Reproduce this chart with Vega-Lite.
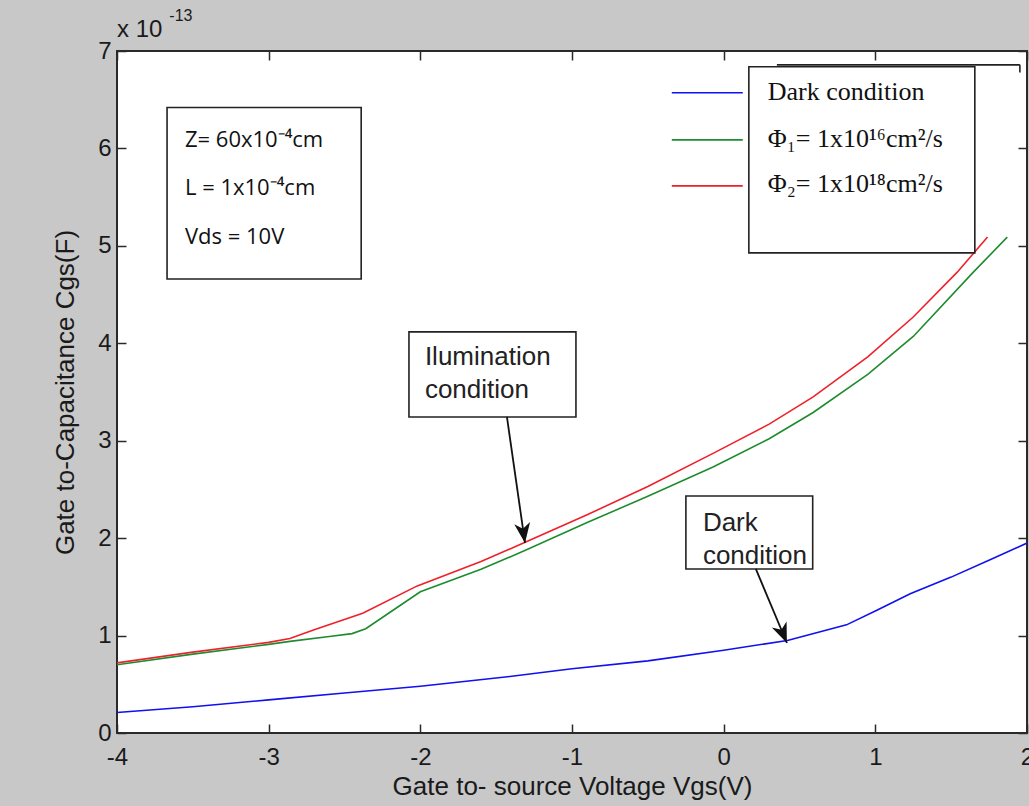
{
  "$schema": "https://vega.github.io/schema/vega-lite/v6.json",
  "width": 910,
  "height": 682,
  "autosize": {"type": "none"},
  "padding": {"left": 117, "top": 51, "right": 2, "bottom": 73},
  "background": "#c8c8c8",
  "view": {"fill": "white", "stroke": "#2a2a2a", "strokeWidth": 2},
  "config": {
    "axis": {
      "grid": false, "domain": false, "tickColor": "#2a2a2a", "tickWidth": 1.5,
      "tickSize": -9, "labelFont": "Liberation Sans", "labelFontSize": 24,
      "labelColor": "#1a1a1a", "titleFont": "Liberation Sans", "titleFontSize": 26,
      "titleFontWeight": "normal", "titleColor": "#1a1a1a",
      "labelOverlap": false, "labelFlush": false, "labelBound": false
    }
  },
  "datasets": {
    "curves": [
      {"Vgs": -4.0, "Cgs": 0.72, "series": "Phi2"},
      {"Vgs": -3.5, "Cgs": 0.83, "series": "Phi2"},
      {"Vgs": -3.0, "Cgs": 0.93, "series": "Phi2"},
      {"Vgs": -2.86, "Cgs": 0.97, "series": "Phi2"},
      {"Vgs": -2.7, "Cgs": 1.06, "series": "Phi2"},
      {"Vgs": -2.38, "Cgs": 1.23, "series": "Phi2"},
      {"Vgs": -2.02, "Cgs": 1.51, "series": "Phi2"},
      {"Vgs": -1.6, "Cgs": 1.76, "series": "Phi2"},
      {"Vgs": -1.32, "Cgs": 1.95, "series": "Phi2"},
      {"Vgs": -0.9, "Cgs": 2.24, "series": "Phi2"},
      {"Vgs": -0.5, "Cgs": 2.53, "series": "Phi2"},
      {"Vgs": -0.07, "Cgs": 2.87, "series": "Phi2"},
      {"Vgs": 0.3, "Cgs": 3.17, "series": "Phi2"},
      {"Vgs": 0.59, "Cgs": 3.45, "series": "Phi2"},
      {"Vgs": 0.95, "Cgs": 3.86, "series": "Phi2"},
      {"Vgs": 1.25, "Cgs": 4.27, "series": "Phi2"},
      {"Vgs": 1.54, "Cgs": 4.73, "series": "Phi2"},
      {"Vgs": 1.74, "Cgs": 5.09, "series": "Phi2"},
      {"Vgs": -4.0, "Cgs": 0.70, "series": "Phi1"},
      {"Vgs": -3.5, "Cgs": 0.81, "series": "Phi1"},
      {"Vgs": -3.0, "Cgs": 0.91, "series": "Phi1"},
      {"Vgs": -2.86, "Cgs": 0.94, "series": "Phi1"},
      {"Vgs": -2.6, "Cgs": 0.99, "series": "Phi1"},
      {"Vgs": -2.45, "Cgs": 1.02, "series": "Phi1"},
      {"Vgs": -2.36, "Cgs": 1.07, "series": "Phi1"},
      {"Vgs": -2.18, "Cgs": 1.26, "series": "Phi1"},
      {"Vgs": -2.0, "Cgs": 1.45, "series": "Phi1"},
      {"Vgs": -1.6, "Cgs": 1.68, "series": "Phi1"},
      {"Vgs": -1.3, "Cgs": 1.88, "series": "Phi1"},
      {"Vgs": -0.9, "Cgs": 2.16, "series": "Phi1"},
      {"Vgs": -0.5, "Cgs": 2.43, "series": "Phi1"},
      {"Vgs": -0.07, "Cgs": 2.73, "series": "Phi1"},
      {"Vgs": 0.3, "Cgs": 3.02, "series": "Phi1"},
      {"Vgs": 0.59, "Cgs": 3.29, "series": "Phi1"},
      {"Vgs": 0.95, "Cgs": 3.68, "series": "Phi1"},
      {"Vgs": 1.25, "Cgs": 4.07, "series": "Phi1"},
      {"Vgs": 1.64, "Cgs": 4.72, "series": "Phi1"},
      {"Vgs": 1.87, "Cgs": 5.09, "series": "Phi1"},
      {"Vgs": -4.0, "Cgs": 0.21, "series": "Dark"},
      {"Vgs": -3.5, "Cgs": 0.27, "series": "Dark"},
      {"Vgs": -3.0, "Cgs": 0.34, "series": "Dark"},
      {"Vgs": -2.5, "Cgs": 0.41, "series": "Dark"},
      {"Vgs": -2.0, "Cgs": 0.48, "series": "Dark"},
      {"Vgs": -1.41, "Cgs": 0.58, "series": "Dark"},
      {"Vgs": -1.0, "Cgs": 0.66, "series": "Dark"},
      {"Vgs": -0.5, "Cgs": 0.74, "series": "Dark"},
      {"Vgs": 0.0, "Cgs": 0.85, "series": "Dark"},
      {"Vgs": 0.42, "Cgs": 0.95, "series": "Dark"},
      {"Vgs": 0.81, "Cgs": 1.11, "series": "Dark"},
      {"Vgs": 1.01, "Cgs": 1.26, "series": "Dark"},
      {"Vgs": 1.23, "Cgs": 1.43, "series": "Dark"},
      {"Vgs": 1.5, "Cgs": 1.6, "series": "Dark"},
      {"Vgs": 1.76, "Cgs": 1.78, "series": "Dark"},
      {"Vgs": 2.0, "Cgs": 1.95, "series": "Dark"}
    ],
    "legendLines": [
      {"x": -0.342, "x2": 0.126, "y": 6.571, "series": "Dark"},
      {"x": -0.342, "x2": 0.126, "y": 6.088, "series": "Phi1"},
      {"x": -0.342, "x2": 0.126, "y": 5.616, "series": "Phi2"}
    ],
    "legendText": [
      {"x": 0.291, "y": 6.576, "label": "Dark condition"},
      {"x": 0.291, "y": 6.094, "label": "Φ₁= 1x10¹⁶cm²/s"},
      {"x": 0.291, "y": 5.631, "label": "Φ₂= 1x10¹⁸cm²/s"}
    ],
    "boxes": [
      {"name": "info", "x": -3.67, "x2": -2.39, "y": 6.42, "y2": 4.66},
      {"name": "legend", "x": 0.166, "x2": 1.656, "y": 6.838, "y2": 4.928},
      {"name": "illum", "x": -2.075, "x2": -0.974, "y": 4.117, "y2": 3.244},
      {"name": "dark", "x": -0.249, "x2": 0.587, "y": 2.433, "y2": 1.684}
    ],
    "frame": [
      {"x": 0.351, "y": 6.858, "x2": 1.953, "y2": 6.858},
      {"x": 1.953, "y": 6.858, "x2": 1.953, "y2": 6.78}
    ],
    "infoText": [
      {"x": -3.552, "y": 6.089, "label": "Z= 60x10⁻⁴cm"},
      {"x": -3.552, "y": 5.59, "label": "L = 1x10⁻⁴cm"},
      {"x": -3.552, "y": 5.09, "label": "Vds = 10V"}
    ],
    "noteText": [
      {"x": -1.97, "y": 3.855, "label": "Ilumination"},
      {"x": -1.97, "y": 3.52, "label": "condition"},
      {"x": -0.137, "y": 2.156, "label": "Dark"},
      {"x": -0.137, "y": 1.817, "label": "condition"}
    ],
    "arrows": [
      {"name": "illum", "x": -1.429, "y": 3.244, "x2": -1.31, "y2": 1.951},
      {"name": "dark", "x": 0.212, "y": 1.684, "x2": 0.417, "y2": 0.924}
    ],
    "exponent": [
      {"x": -4.0, "y": 7.218, "label": "x 10"}
    ],
    "exponentSup": [
      {"x": -3.655, "y": 7.36, "label": "-13"}
    ]
  },
  "layer": [
    {
      "data": {"name": "curves"},
      "mark": {"type": "line", "strokeWidth": 1.6, "clip": true},
      "encoding": {
        "x": {"field": "Vgs", "type": "quantitative",
          "scale": {"domain": [-4, 2], "nice": false, "zero": false},
          "axis": {"orient": "bottom", "values": [-4, -3, -2, -1, 0, 1, 2], "labelExpr": "'' + datum.value",
            "labelPadding": 21, "title": "Gate to- source Voltage Vgs(V)", "titlePadding": 4}},
        "y": {"field": "Cgs", "type": "quantitative",
          "scale": {"domain": [0, 7], "nice": false, "zero": false},
          "axis": {"orient": "left", "values": [0, 1, 2, 3, 4, 5, 6, 7], "labelExpr": "'' + datum.value",
            "labelPadding": 15, "title": "Gate to-Capacitance Cgs(F)", "titlePadding": 19}},
        "color": {"field": "series", "type": "nominal",
          "scale": {"domain": ["Dark", "Phi1", "Phi2"], "range": ["#1010f0", "#1e8c2e", "#f0202a"]},
          "legend": null},
        "order": {"field": "Vgs", "type": "quantitative"}
      }
    },
    {
      "data": {"name": "boxes"},
      "mark": {"type": "rect", "fill": "white", "stroke": "#222222", "strokeWidth": 1.6},
      "encoding": {
        "x": {"field": "x", "type": "quantitative",
          "axis": {"orient": "top", "values": [-4, -3, -2, -1, 0, 1, 2], "labels": false, "title": null}},
        "x2": {"field": "x2"},
        "y": {"field": "y", "type": "quantitative",
          "axis": {"orient": "right", "values": [0, 1, 2, 3, 4, 5, 6, 7], "labels": false, "title": null}},
        "y2": {"field": "y2"}
      }
    },
    {
      "data": {"name": "frame"},
      "mark": {"type": "rule", "stroke": "#222222", "strokeWidth": 1.6},
      "encoding": {
        "x": {"field": "x", "type": "quantitative", "axis": null},
        "y": {"field": "y", "type": "quantitative", "axis": null},
        "x2": {"field": "x2"},
        "y2": {"field": "y2"}
      }
    },
    {
      "data": {"name": "legendLines"},
      "mark": {"type": "rule", "strokeWidth": 1.6},
      "encoding": {
        "x": {"field": "x", "type": "quantitative", "axis": null},
        "x2": {"field": "x2"},
        "y": {"field": "y", "type": "quantitative", "axis": null},
        "color": {"field": "series", "type": "nominal", "legend": null}
      }
    },
    {
      "data": {"name": "legendText"},
      "mark": {"type": "text", "align": "left", "baseline": "middle", "font": "Liberation Serif", "fontSize": 26, "color": "#111111"},
      "encoding": {
        "x": {"field": "x", "type": "quantitative", "axis": null},
        "y": {"field": "y", "type": "quantitative", "axis": null},
        "text": {"field": "label"}
      }
    },
    {
      "data": {"name": "infoText"},
      "mark": {"type": "text", "align": "left", "baseline": "middle", "font": "Open Sans", "fontSize": 22, "color": "#111111"},
      "encoding": {
        "x": {"field": "x", "type": "quantitative", "axis": null},
        "y": {"field": "y", "type": "quantitative", "axis": null},
        "text": {"field": "label"}
      }
    },
    {
      "data": {"name": "noteText"},
      "mark": {"type": "text", "align": "left", "baseline": "middle", "font": "Liberation Sans", "fontSize": 26, "color": "#222222"},
      "encoding": {
        "x": {"field": "x", "type": "quantitative", "axis": null},
        "y": {"field": "y", "type": "quantitative", "axis": null},
        "text": {"field": "label"}
      }
    },
    {
      "data": {"name": "arrows"},
      "mark": {"type": "rule", "stroke": "#111111", "strokeWidth": 1.8},
      "encoding": {
        "x": {"field": "x", "type": "quantitative", "axis": null},
        "y": {"field": "y", "type": "quantitative", "axis": null},
        "x2": {"field": "x2"},
        "y2": {"field": "y2"}
      }
    },
    {
      "data": {"name": "arrows"},
      "transform": [{"filter": "datum.name === 'illum'"}],
      "mark": {"type": "point", "shape": "M0,0L-0.4,-1L0,-0.72L0.4,-1Z", "size": 1600, "filled": true, "color": "#111111", "opacity": 1, "angle": 351.9},
      "encoding": {
        "x": {"field": "x2", "type": "quantitative", "axis": null},
        "y": {"field": "y2", "type": "quantitative", "axis": null}
      }
    },
    {
      "data": {"name": "arrows"},
      "transform": [{"filter": "datum.name === 'dark'"}],
      "mark": {"type": "point", "shape": "M0,0L-0.4,-1L0,-0.72L0.4,-1Z", "size": 1600, "filled": true, "color": "#111111", "opacity": 1, "angle": 337.3},
      "encoding": {
        "x": {"field": "x2", "type": "quantitative", "axis": null},
        "y": {"field": "y2", "type": "quantitative", "axis": null}
      }
    },
    {
      "data": {"name": "exponent"},
      "mark": {"type": "text", "align": "left", "baseline": "middle", "font": "Liberation Sans", "fontSize": 24, "color": "#1a1a1a"},
      "encoding": {
        "x": {"field": "x", "type": "quantitative", "axis": null},
        "y": {"field": "y", "type": "quantitative", "axis": null},
        "text": {"field": "label"}
      }
    },
    {
      "data": {"name": "exponentSup"},
      "mark": {"type": "text", "align": "left", "baseline": "middle", "font": "Liberation Sans", "fontSize": 16, "color": "#1a1a1a"},
      "encoding": {
        "x": {"field": "x", "type": "quantitative", "axis": null},
        "y": {"field": "y", "type": "quantitative", "axis": null},
        "text": {"field": "label"}
      }
    }
  ],
  "resolve": {"axis": {"x": "independent", "y": "independent"}}
}
